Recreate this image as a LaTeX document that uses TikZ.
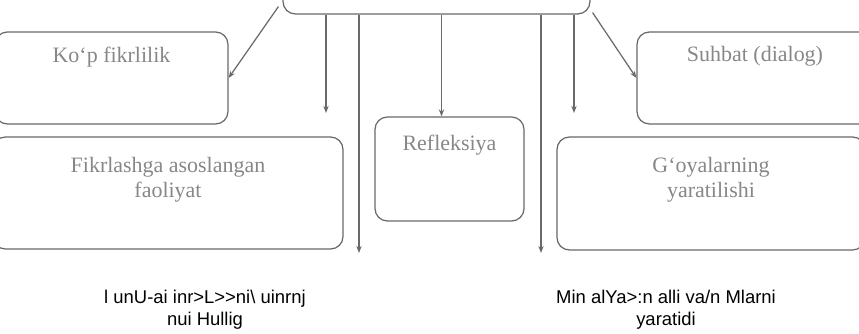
\documentclass[tikz,border=0pt]{standalone}
\usepackage{fontspec}
\setmainfont{Liberation Serif}
\newfontfamily\scanfont{Liberation Sans}
\definecolor{boxgray}{RGB}{105,105,105}
\definecolor{textgray}{RGB}{135,135,135}
\usetikzlibrary{arrows.meta, calc}

\begin{document}
\begin{tikzpicture}[x=0.02cm, y=-0.02cm,
  box/.style={draw=boxgray, line width=0.7pt, rounded corners=7pt, inner sep=0pt},
  boxtxt/.style={text=textgray, font=\fontsize{12.5}{14}\selectfont, align=center,
                 inner sep=0pt, anchor=north},
  link/.style={draw=boxgray, line width=0.7pt, -{Stealth[length=4pt, width=3pt]}},
  captxt/.style={font=\scanfont\fontsize{10.5}{12.5}\selectfont, align=center,
                 inner sep=0pt, anchor=north},
]
\path[use as bounding box, clip] (0,0) rectangle (859,334);

% top box (cut by the page edge)
\node[box, minimum width=6.14cm, minimum height=1.48cm] (top) at (436.5,-23) {};

% left column
\node[box, minimum width=4.66cm, minimum height=1.84cm,
      label={[boxtxt, yshift=-0.3cm]north:{Ko‘p fikrlilik}}] (kop) at (111.5,78) {};
\node[box, minimum width=7cm, minimum height=2.24cm,
      label={[boxtxt, yshift=-0.42cm]north:{Fikrlashga asoslangan\\faoliyat}}] (fikr) at (168,193) {};

% middle
\node[box, minimum width=2.98cm, minimum height=2.08cm,
      label={[boxtxt, yshift=-0.36cm]north:{Refleksiya}}] (refl) at (449.5,169) {};

% right column
\node[box, minimum width=4.72cm, minimum height=1.84cm,
      label={[boxtxt, yshift=-0.3cm]north:{Suhbat (dialog)}}] (suhbat) at (755,78) {};
\node[box, minimum width=6.16cm, minimum height=2.26cm,
      label={[boxtxt, yshift=-0.42cm]north:{G‘oyalarning\\yaratilishi}}] (goya) at (711,193.5) {};

% arrows from the top box
\coordinate (d1) at (326,113);
\coordinate (d2) at (359,253);
\coordinate (d3) at (541,253);
\coordinate (d4) at (574,113);
\coordinate (r1) at ($(refl.north)+(-8,0)$);
\draw[link] ($(top.south west)+(-4,-8)$) -- (kop.east);
\draw[link] ($(top.south east)+(2,-2)$) -- (suhbat.west);
\draw[link] (top.south -| d1) -- (d1);
\draw[link] (top.south -| d2) -- (d2);
\draw[link] (top.south -| r1) -- (r1);
\draw[link] (top.south -| d3) -- (d3);
\draw[link] (top.south -| d4) -- (d4);

% captions below
\node[captxt] (cap1) at (205,290) {l unU-ai inr>L>>ni\textbackslash{} uinrnj\\nui Hullig};
\node[captxt] (cap2) at (666,290) {Min alYa>:n alli va/n Mlarni\\yaratidi};
\end{tikzpicture}
\end{document}
